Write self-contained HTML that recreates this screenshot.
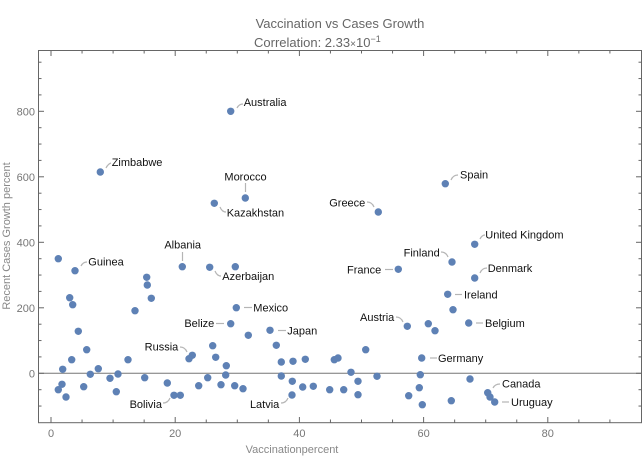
<!DOCTYPE html>
<html><head><meta charset="utf-8"><style>
html,body{margin:0;padding:0;background:#fff;}
svg{display:block;}
text{font-family:"Liberation Sans","DejaVu Sans",sans-serif;}
</style></head><body>
<svg width="644" height="473" viewBox="0 0 644 473" xmlns="http://www.w3.org/2000/svg">
<rect width="644" height="473" fill="#fff"/>
<text x="340" y="28" text-anchor="middle" font-size="13" fill="#666">Vaccination vs Cases Growth</text>
<text x="254" y="47" font-size="13" fill="#666">Correlation: 2.33<tspan font-size="10">×</tspan>10<tspan dy="-5" font-size="9">−1</tspan></text>

<!-- zero line -->
<line x1="38.5" y1="373.3" x2="641.5" y2="373.3" stroke="#777" stroke-width="1"/>
<!-- frame -->
<rect x="38.5" y="50.5" width="603" height="372.2" fill="none" stroke="#666" stroke-width="1"/>
<g stroke="#666" stroke-width="1">
<!-- x ticks bottom/top -->
<line x1="51" y1="422.7" x2="51" y2="417"/><line x1="51" y1="50.5" x2="51" y2="56"/>
<line x1="82.05" y1="422.7" x2="82.05" y2="419.5"/><line x1="82.05" y1="50.5" x2="82.05" y2="53.5"/>
<line x1="113.1" y1="422.7" x2="113.1" y2="419.5"/><line x1="113.1" y1="50.5" x2="113.1" y2="53.5"/>
<line x1="144.15" y1="422.7" x2="144.15" y2="419.5"/><line x1="144.15" y1="50.5" x2="144.15" y2="53.5"/>
<line x1="175.2" y1="422.7" x2="175.2" y2="417"/><line x1="175.2" y1="50.5" x2="175.2" y2="56"/>
<line x1="206.25" y1="422.7" x2="206.25" y2="419.5"/><line x1="206.25" y1="50.5" x2="206.25" y2="53.5"/>
<line x1="237.3" y1="422.7" x2="237.3" y2="419.5"/><line x1="237.3" y1="50.5" x2="237.3" y2="53.5"/>
<line x1="268.35" y1="422.7" x2="268.35" y2="419.5"/><line x1="268.35" y1="50.5" x2="268.35" y2="53.5"/>
<line x1="299.4" y1="422.7" x2="299.4" y2="417"/><line x1="299.4" y1="50.5" x2="299.4" y2="56"/>
<line x1="330.45" y1="422.7" x2="330.45" y2="419.5"/><line x1="330.45" y1="50.5" x2="330.45" y2="53.5"/>
<line x1="361.5" y1="422.7" x2="361.5" y2="419.5"/><line x1="361.5" y1="50.5" x2="361.5" y2="53.5"/>
<line x1="392.55" y1="422.7" x2="392.55" y2="419.5"/><line x1="392.55" y1="50.5" x2="392.55" y2="53.5"/>
<line x1="423.6" y1="422.7" x2="423.6" y2="417"/><line x1="423.6" y1="50.5" x2="423.6" y2="56"/>
<line x1="454.65" y1="422.7" x2="454.65" y2="419.5"/><line x1="454.65" y1="50.5" x2="454.65" y2="53.5"/>
<line x1="485.7" y1="422.7" x2="485.7" y2="419.5"/><line x1="485.7" y1="50.5" x2="485.7" y2="53.5"/>
<line x1="516.75" y1="422.7" x2="516.75" y2="419.5"/><line x1="516.75" y1="50.5" x2="516.75" y2="53.5"/>
<line x1="547.8" y1="422.7" x2="547.8" y2="417"/><line x1="547.8" y1="50.5" x2="547.8" y2="56"/>
<line x1="578.85" y1="422.7" x2="578.85" y2="419.5"/><line x1="578.85" y1="50.5" x2="578.85" y2="53.5"/>
<line x1="609.9" y1="422.7" x2="609.9" y2="419.5"/><line x1="609.9" y1="50.5" x2="609.9" y2="53.5"/>
<!-- y ticks left/right -->
<line x1="38.5" y1="406.05" x2="41.5" y2="406.05"/><line x1="641.5" y1="406.05" x2="638.5" y2="406.05"/>
<line x1="38.5" y1="389.7" x2="41.5" y2="389.7"/><line x1="641.5" y1="389.7" x2="638.5" y2="389.7"/>
<line x1="38.5" y1="373.3" x2="44" y2="373.3"/><line x1="641.5" y1="373.3" x2="636" y2="373.3"/>
<line x1="38.5" y1="356.9" x2="41.5" y2="356.9"/><line x1="641.5" y1="356.9" x2="638.5" y2="356.9"/>
<line x1="38.5" y1="340.55" x2="41.5" y2="340.55"/><line x1="641.5" y1="340.55" x2="638.5" y2="340.55"/>
<line x1="38.5" y1="324.2" x2="41.5" y2="324.2"/><line x1="641.5" y1="324.2" x2="638.5" y2="324.2"/>
<line x1="38.5" y1="307.8" x2="44" y2="307.8"/><line x1="641.5" y1="307.8" x2="636" y2="307.8"/>
<line x1="38.5" y1="291.4" x2="41.5" y2="291.4"/><line x1="641.5" y1="291.4" x2="638.5" y2="291.4"/>
<line x1="38.5" y1="275.05" x2="41.5" y2="275.05"/><line x1="641.5" y1="275.05" x2="638.5" y2="275.05"/>
<line x1="38.5" y1="258.7" x2="41.5" y2="258.7"/><line x1="641.5" y1="258.7" x2="638.5" y2="258.7"/>
<line x1="38.5" y1="242.3" x2="44" y2="242.3"/><line x1="641.5" y1="242.3" x2="636" y2="242.3"/>
<line x1="38.5" y1="225.9" x2="41.5" y2="225.9"/><line x1="641.5" y1="225.9" x2="638.5" y2="225.9"/>
<line x1="38.5" y1="209.55" x2="41.5" y2="209.55"/><line x1="641.5" y1="209.55" x2="638.5" y2="209.55"/>
<line x1="38.5" y1="193.2" x2="41.5" y2="193.2"/><line x1="641.5" y1="193.2" x2="638.5" y2="193.2"/>
<line x1="38.5" y1="176.8" x2="44" y2="176.8"/><line x1="641.5" y1="176.8" x2="636" y2="176.8"/>
<line x1="38.5" y1="160.4" x2="41.5" y2="160.4"/><line x1="641.5" y1="160.4" x2="638.5" y2="160.4"/>
<line x1="38.5" y1="144.05" x2="41.5" y2="144.05"/><line x1="641.5" y1="144.05" x2="638.5" y2="144.05"/>
<line x1="38.5" y1="127.7" x2="41.5" y2="127.7"/><line x1="641.5" y1="127.7" x2="638.5" y2="127.7"/>
<line x1="38.5" y1="111.3" x2="44" y2="111.3"/><line x1="641.5" y1="111.3" x2="636" y2="111.3"/>
<line x1="38.5" y1="94.9" x2="41.5" y2="94.9"/><line x1="641.5" y1="94.9" x2="638.5" y2="94.9"/>
<line x1="38.5" y1="78.55" x2="41.5" y2="78.55"/><line x1="641.5" y1="78.55" x2="638.5" y2="78.55"/>
<line x1="38.5" y1="62.2" x2="41.5" y2="62.2"/><line x1="641.5" y1="62.2" x2="638.5" y2="62.2"/>
</g>
<g font-size="11" fill="#777" text-anchor="middle">
<text x="51" y="437">0</text><text x="175.2" y="437">20</text><text x="299.4" y="437">40</text><text x="423.6" y="437">60</text><text x="547.8" y="437">80</text>
</g>
<g font-size="11" fill="#777" text-anchor="end">
<text x="35" y="377.3">0</text><text x="35" y="311.8">200</text><text x="35" y="246.3">400</text><text x="35" y="180.8">600</text><text x="35" y="115.3">800</text>
</g>
<text x="292" y="453" font-size="11" fill="#888" text-anchor="middle">Vaccinationpercent</text>
<text transform="translate(10,236) rotate(-90)" font-size="11" fill="#888" text-anchor="middle">Recent Cases Growth percent</text>

<!-- leader lines -->
<g stroke="#b5b5b5" stroke-width="1.2" fill="none">
<path d="M237,108 Q239,104 243,104"/>
<path d="M106,168 Q108,164 111,163"/>
<line x1="245.5" y1="183" x2="245.5" y2="192"/>
<path d="M220,207 Q222,212 226,212"/>
<path d="M451,180 Q453,175 458,175"/>
<path d="M367,202 Q372,202 374,207"/>
<path d="M480,239 Q482,235 485,235"/>
<path d="M441,252 Q446,252 448,257"/>
<line x1="385" y1="269.5" x2="393" y2="269.5"/>
<path d="M480,273 Q482,268 487,268"/>
<line x1="455" y1="294.5" x2="462" y2="294.5"/>
<path d="M396,317 Q401,317 403,322"/>
<line x1="476" y1="323" x2="483" y2="323"/>
<line x1="430" y1="358" x2="437" y2="358"/>
<path d="M493,388 Q495,384 500,384"/>
<line x1="502" y1="402" x2="509" y2="402"/>
<line x1="182.5" y1="252" x2="182.5" y2="261"/>
<path d="M81,266 Q83,262 87,262"/>
<path d="M215,271 Q217,276 221,276"/>
<line x1="244" y1="307.5" x2="252" y2="307.5"/>
<line x1="216" y1="323.5" x2="224" y2="323.5"/>
<line x1="278" y1="330.5" x2="286" y2="330.5"/>
<path d="M180,347 Q185,347 187,352"/>
<path d="M163,403 Q168,403 170,398"/>
<path d="M281,403 Q286,403 288,398"/>
</g>

<!-- points -->
<g fill="#5e81b5">
<circle cx="230.7" cy="111.3" r="3.7"/>
<circle cx="100.3" cy="172" r="3.7"/>
<circle cx="245.3" cy="198" r="3.7"/>
<circle cx="214.3" cy="203.3" r="3.7"/>
<circle cx="445.3" cy="183.7" r="3.7"/>
<circle cx="378.3" cy="212" r="3.7"/>
<circle cx="182.3" cy="266.7" r="3.7"/>
<circle cx="75" cy="270.7" r="3.7"/>
<circle cx="58.3" cy="258.7" r="3.7"/>
<circle cx="209.7" cy="267.3" r="3.7"/>
<circle cx="235.3" cy="266.7" r="3.7"/>
<circle cx="146.7" cy="277.3" r="3.7"/>
<circle cx="147.3" cy="285" r="3.7"/>
<circle cx="151.3" cy="298.3" r="3.7"/>
<circle cx="69.7" cy="297.7" r="3.7"/>
<circle cx="72.7" cy="304.7" r="3.7"/>
<circle cx="135" cy="310.7" r="3.7"/>
<circle cx="78.3" cy="331.3" r="3.7"/>
<circle cx="236.3" cy="307.7" r="3.7"/>
<circle cx="230.7" cy="323.7" r="3.7"/>
<circle cx="270" cy="330.3" r="3.7"/>
<circle cx="248.3" cy="335.3" r="3.7"/>
<circle cx="276.3" cy="345.3" r="3.7"/>
<circle cx="86.7" cy="349.7" r="3.7"/>
<circle cx="212.7" cy="345.7" r="3.7"/>
<circle cx="215.7" cy="357.3" r="3.7"/>
<circle cx="192.3" cy="355.3" r="3.7"/>
<circle cx="189" cy="358.7" r="3.7"/>
<circle cx="71.7" cy="359.7" r="3.7"/>
<circle cx="128" cy="359.7" r="3.7"/>
<circle cx="281.3" cy="362" r="3.7"/>
<circle cx="293" cy="361.3" r="3.7"/>
<circle cx="305.3" cy="359.3" r="3.7"/>
<circle cx="226.3" cy="365.7" r="3.7"/>
<circle cx="62.7" cy="369.3" r="3.7"/>
<circle cx="98.3" cy="368.7" r="3.7"/>
<circle cx="90.3" cy="374.3" r="3.7"/>
<circle cx="118" cy="374" r="3.7"/>
<circle cx="110" cy="378.3" r="3.7"/>
<circle cx="144.7" cy="377.7" r="3.7"/>
<circle cx="207.7" cy="377.7" r="3.7"/>
<circle cx="225.7" cy="375" r="3.7"/>
<circle cx="281.3" cy="376" r="3.7"/>
<circle cx="292.3" cy="381.3" r="3.7"/>
<circle cx="62" cy="384.3" r="3.7"/>
<circle cx="58.3" cy="389.7" r="3.7"/>
<circle cx="66" cy="397" r="3.7"/>
<circle cx="83.7" cy="386.7" r="3.7"/>
<circle cx="116.3" cy="391.7" r="3.7"/>
<circle cx="167.3" cy="383" r="3.7"/>
<circle cx="174" cy="395.3" r="3.7"/>
<circle cx="180.3" cy="395.3" r="3.7"/>
<circle cx="198.7" cy="385.7" r="3.7"/>
<circle cx="221" cy="384.7" r="3.7"/>
<circle cx="234.7" cy="385.7" r="3.7"/>
<circle cx="243" cy="388.7" r="3.7"/>
<circle cx="292" cy="395" r="3.7"/>
<circle cx="302.7" cy="387" r="3.7"/>
<circle cx="313.3" cy="386.3" r="3.7"/>
<circle cx="474.7" cy="244.3" r="3.7"/>
<circle cx="452" cy="262" r="3.7"/>
<circle cx="398.3" cy="269.3" r="3.7"/>
<circle cx="474.7" cy="278" r="3.7"/>
<circle cx="447.7" cy="294.3" r="3.7"/>
<circle cx="453" cy="309.7" r="3.7"/>
<circle cx="407.3" cy="326.3" r="3.7"/>
<circle cx="428.3" cy="323.7" r="3.7"/>
<circle cx="435" cy="330.7" r="3.7"/>
<circle cx="468.7" cy="323" r="3.7"/>
<circle cx="365.7" cy="349.7" r="3.7"/>
<circle cx="334.3" cy="359.7" r="3.7"/>
<circle cx="338" cy="358" r="3.7"/>
<circle cx="421.7" cy="358" r="3.7"/>
<circle cx="351" cy="372.3" r="3.7"/>
<circle cx="377" cy="376.3" r="3.7"/>
<circle cx="420.3" cy="374.7" r="3.7"/>
<circle cx="470" cy="379" r="3.7"/>
<circle cx="358" cy="381.3" r="3.7"/>
<circle cx="329.7" cy="389.7" r="3.7"/>
<circle cx="343.7" cy="389.7" r="3.7"/>
<circle cx="358" cy="394.7" r="3.7"/>
<circle cx="419.3" cy="387.7" r="3.7"/>
<circle cx="408.7" cy="395.7" r="3.7"/>
<circle cx="422.3" cy="404.7" r="3.7"/>
<circle cx="451.3" cy="400.7" r="3.7"/>
<circle cx="487.7" cy="392.7" r="3.7"/>
<circle cx="490" cy="397" r="3.7"/>
<circle cx="494.7" cy="402" r="3.7"/>
</g>

<!-- labels -->
<g font-size="11" fill="#111">
<text x="243.7" y="106">Australia</text>
<text x="111.7" y="166">Zimbabwe</text>
<text x="245.5" y="180.3" text-anchor="middle">Morocco</text>
<text x="226.7" y="216.3">Kazakhstan</text>
<text x="460" y="178.3">Spain</text>
<text x="365.3" y="206.3" text-anchor="end">Greece</text>
<text x="485.3" y="238.3">United Kingdom</text>
<text x="439.7" y="256.3" text-anchor="end">Finland</text>
<text x="381.3" y="273.3" text-anchor="end">France</text>
<text x="487.7" y="272">Denmark</text>
<text x="464" y="298.3">Ireland</text>
<text x="394.3" y="321" text-anchor="end">Austria</text>
<text x="485" y="327">Belgium</text>
<text x="438" y="362">Germany</text>
<text x="502" y="387.3">Canada</text>
<text x="511" y="406">Uruguay</text>
<text x="182.7" y="248.3" text-anchor="middle">Albania</text>
<text x="88.3" y="265.3">Guinea</text>
<text x="222.3" y="280">Azerbaijan</text>
<text x="253.3" y="311.3">Mexico</text>
<text x="214.3" y="327" text-anchor="end">Belize</text>
<text x="287.3" y="334.3">Japan</text>
<text x="178.3" y="350.3" text-anchor="end">Russia</text>
<text x="162" y="408" text-anchor="end">Bolivia</text>
<text x="279.3" y="408" text-anchor="end">Latvia</text>
</g>
</svg>
</body></html>
